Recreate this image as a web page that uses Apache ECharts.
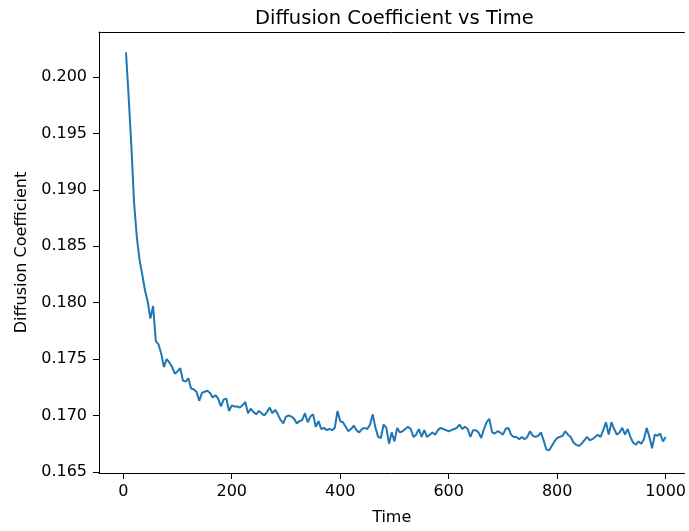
<!DOCTYPE html>
<html>
<head>
<meta charset="utf-8">
<script src="https://cdn.jsdelivr.net/npm/echarts@6/dist/echarts.min.js"></script>
<style>
  html, body { margin: 0; padding: 0; background: #fff; }
  #chart { width: 689px; height: 531px; }
</style>
</head>
<body>
<div id="chart"></div>
<script>
// time steps 5..1000
const timeValues = [];
for (let t = 5; t <= 1000; t += 5) timeValues.push(t);

// diffusion coefficient, one per time step
const diffValues = [
  0.2022, 0.1982, 0.1938, 0.1888, 0.1858, 0.1838, 0.1825, 0.1811, 0.1801, 0.1786,
  0.1797, 0.1766, 0.1763, 0.1755, 0.1743, 0.1750, 0.1747, 0.1743, 0.1737, 0.1739,
  0.1742, 0.1731, 0.1730, 0.1733, 0.1724, 0.1723, 0.1721, 0.1713, 0.1720, 0.1721,
  0.1722, 0.1720, 0.1716, 0.1718, 0.1715, 0.1708, 0.1714, 0.1715, 0.1704, 0.1709,
  0.1708, 0.1708, 0.1707, 0.1709, 0.1712, 0.1702, 0.1706, 0.1703, 0.1701, 0.1704,
  0.1702, 0.1700, 0.1703, 0.1707, 0.1702, 0.1705, 0.1701, 0.1696, 0.1693, 0.1699,
  0.1700, 0.1699, 0.1697, 0.1693, 0.1695, 0.1696, 0.1702, 0.1694, 0.1699, 0.1701,
  0.1690, 0.1695, 0.1688, 0.1689, 0.1687, 0.1688, 0.1687, 0.1689, 0.1704, 0.1695,
  0.1694, 0.1690, 0.1686, 0.1688, 0.1691, 0.1687, 0.1685, 0.1688, 0.1689, 0.1688,
  0.1692, 0.1701, 0.1689, 0.1681, 0.1680, 0.1692, 0.1689, 0.1675, 0.1685, 0.1677,
  0.1689, 0.1685, 0.1686, 0.1688, 0.1690, 0.1688, 0.1681, 0.1683, 0.1688, 0.1681,
  0.1687, 0.1681, 0.1683, 0.1685, 0.1683, 0.1687, 0.1689, 0.1688, 0.1687, 0.1686,
  0.1687, 0.1688, 0.1689, 0.1692, 0.1688, 0.1690, 0.1688, 0.1681, 0.1687, 0.1687,
  0.1685, 0.1680, 0.1688, 0.1694, 0.1697, 0.1685, 0.1684, 0.1686, 0.1685, 0.1683,
  0.1688, 0.1689, 0.1683, 0.1681, 0.1681, 0.1679, 0.1681, 0.1679, 0.1681, 0.1686,
  0.1682, 0.1681, 0.1682, 0.1685, 0.1678, 0.1670, 0.1669, 0.1673, 0.1677, 0.1680,
  0.1681, 0.1682, 0.1686, 0.1683, 0.1681, 0.1676, 0.1674, 0.1673, 0.1675, 0.1678,
  0.1681, 0.1678, 0.1679, 0.1681, 0.1683, 0.1681, 0.1687, 0.1694, 0.1683, 0.1694,
  0.1688, 0.1683, 0.1685, 0.1689, 0.1683, 0.1688, 0.1681, 0.1676, 0.1674, 0.1677,
  0.1675, 0.1679, 0.1689, 0.1681, 0.1671, 0.1683, 0.1682, 0.1684, 0.1677, 0.1681
];

const xTicks = [0, 200, 400, 600, 800, 1000];
const yTicks = [0.165, 0.170, 0.175, 0.180, 0.185, 0.190, 0.195, 0.200];

const chart = echarts.init(document.getElementById('chart'));
const font = 'DejaVu Sans';

const option = {
  animation: false,
  backgroundColor: '#fff',
  title: {
    text: 'Diffusion Coefficient vs Time',
    left: 250,
    top: 4,
    textStyle: { fontFamily: font, fontSize: 19.5, fontWeight: 'normal', color: '#000' }
  },
  // right spine falls just outside the picture, so the x range is cut at the edge
  grid: { left: 99, right: 0, top: 32, bottom: 53, show: false },
  xAxis: [{
    type: 'value',
    min: -44.75,
    max: 1034.6,
    name: 'Time',
    nameLocation: 'middle',
    nameGap: 37,
    nameTextStyle: { fontFamily: font, fontSize: 16, color: '#000' },
    axisLine: { show: true, onZero: false, lineStyle: { color: '#000', width: 1 } },
    axisTick: { show: true, length: 6, customValues: xTicks, lineStyle: { color: '#000' } },
    axisLabel: {
      customValues: xTicks, fontFamily: font, fontSize: 16, color: '#000', margin: 11,
      formatter: v => String(v)
    },
    splitLine: { show: false }
  }, {
    // top spine
    type: 'value',
    position: 'top',
    min: -44.75,
    max: 1034.6,
    axisLine: { show: true, onZero: false, lineStyle: { color: '#000', width: 1 } },
    axisTick: { show: false },
    axisLabel: { show: false },
    splitLine: { show: false }
  }],
  yAxis: {
    type: 'value',
    min: 0.1649,
    max: 0.2040,
    name: 'Diffusion Coefficient',
    nameLocation: 'middle',
    nameGap: 69,
    nameTextStyle: { fontFamily: font, fontSize: 16, color: '#000' },
    axisLine: { show: true, onZero: false, lineStyle: { color: '#000', width: 1 } },
    axisTick: { show: true, length: 6, customValues: yTicks, lineStyle: { color: '#000' } },
    axisLabel: {
      customValues: yTicks, fontFamily: font, fontSize: 16, color: '#000', margin: 12,
      formatter: v => v.toFixed(3)
    },
    splitLine: { show: false }
  },
  series: [{
    type: 'line',
    data: timeValues.map((t, i) => [t, diffValues[i]]),
    showSymbol: false,
    lineStyle: { color: '#1f77b4', width: 2 },
    itemStyle: { color: '#1f77b4' }
  }]
};

chart.setOption(option);
</script>
</body>
</html>
